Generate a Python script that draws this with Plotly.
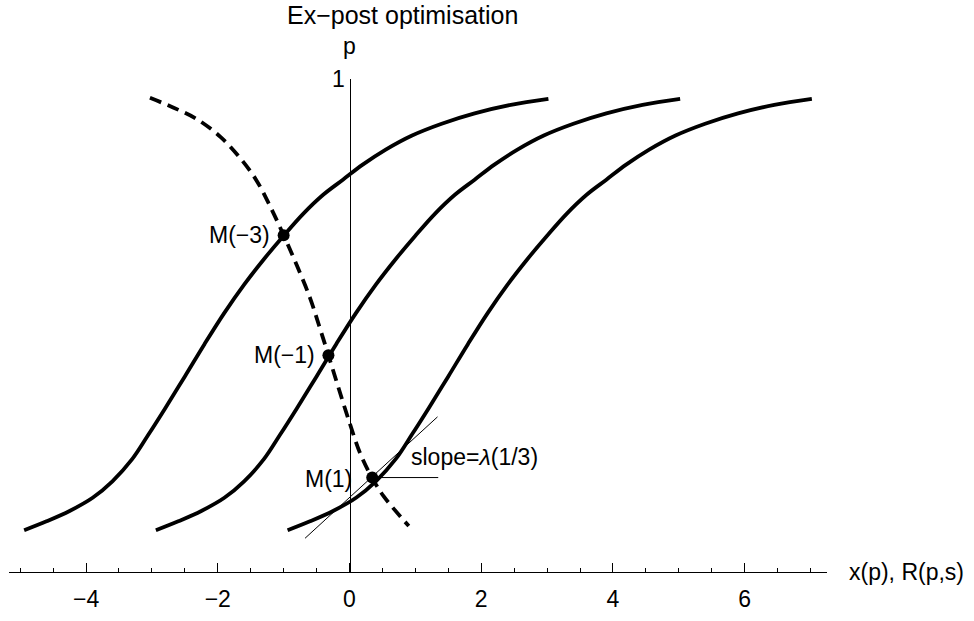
import plotly.graph_objects as go

# ---- data ----
# three solid curves R(p,s) for s = -3, -1, 1 (same p samples)
p_curve = [0.041, 0.060, 0.082, 0.110, 0.145, 0.192, 0.245, 0.300, 0.368, 0.437, 0.503, 0.563,
           0.617, 0.667, 0.714, 0.754, 0.786, 0.818, 0.850, 0.880, 0.905, 0.927, 0.945, 0.958]
x_s_m3 = [-4.94, -4.60, -4.25, -3.90, -3.60, -3.30, -3.05, -2.80, -2.50, -2.20, -1.90, -1.60,
          -1.30, -1.00, -0.70, -0.40, -0.10, 0.20, 0.55, 0.95, 1.40, 1.90, 2.45, 3.02]
x_s_m1 = [-2.94, -2.60, -2.25, -1.90, -1.60, -1.30, -1.05, -0.80, -0.50, -0.20, 0.10, 0.40,
          0.70, 1.00, 1.30, 1.60, 1.90, 2.20, 2.55, 2.95, 3.40, 3.90, 4.45, 5.02]
x_s_p1 = [-0.94, -0.60, -0.25, 0.10, 0.40, 0.70, 0.95, 1.20, 1.50, 1.80, 2.10, 2.40,
          2.70, 3.00, 3.30, 3.60, 3.90, 4.20, 4.55, 4.95, 5.40, 5.90, 6.45, 7.02]

# dashed locus of the optimal points M(s)
p_dash = [0.960, 0.939, 0.915, 0.877, 0.832, 0.784, 0.728, 0.668, 0.604, 0.535,
          0.475, 0.413, 0.345, 0.270, 0.205, 0.153, 0.113, 0.050]
x_dash = [-3.03, -2.67, -2.32, -1.96, -1.66, -1.41, -1.20, -1.00, -0.80, -0.60,
          -0.46, -0.32, -0.17, 0.00, 0.16, 0.34, 0.52, 0.90]

m_labels = ["M(\u22123)", "M(\u22121)", "M(1)"]
m_x = [-1.00, -0.32, 0.345]
m_p = [0.668, 0.413, 0.153]

tan_x = [-0.675, 1.336]
tan_p = [0.024, 0.282]
hor_x = [0.345, 1.347]
hor_p = [0.153, 0.153]

x_ticks = [-4, -2, 0, 2, 4, 6]
title_text = "Ex\u2212post optimisation"
x_label = "x(p), R(p,s)"
y_label = "p"
slope_text = "slope=<i>\u03bb</i>(1/3)"

# ---- figure ----
FONT = "Liberation Sans, Arial, Helvetica, sans-serif"
FS = 23
XMIN, XMAX = -5.17, 7.25
YMIN, YMAX = -0.0477, 1.0

fig = go.Figure()
for xs in (x_s_m3, x_s_m1, x_s_p1):
    fig.add_trace(go.Scatter(x=xs, y=p_curve, mode="lines",
                             line=dict(color="black", width=3.8, shape="spline", smoothing=1.0),
                             hoverinfo="skip", showlegend=False))
fig.add_trace(go.Scatter(x=x_dash, y=p_dash, mode="lines",
                         line=dict(color="black", width=3.8, dash="12px,7px", shape="spline", smoothing=1.0),
                         hoverinfo="skip", showlegend=False))
fig.add_trace(go.Scatter(x=tan_x, y=tan_p, mode="lines", line=dict(color="black", width=1),
                         hoverinfo="skip", showlegend=False))
fig.add_trace(go.Scatter(x=hor_x, y=hor_p, mode="lines", line=dict(color="black", width=1),
                         hoverinfo="skip", showlegend=False))
fig.add_trace(go.Scatter(x=m_x, y=m_p, mode="markers", marker=dict(color="black", size=12),
                         hoverinfo="skip", showlegend=False))

txt = dict(size=FS, family=FONT, color="black")
ann = []
offsets = [(-0.18, 0.0), (-0.17, 0.0), (-0.27, -0.003)]
for lab, mx, mp, (dx, dy) in zip(m_labels, m_x, m_p, offsets):
    ann.append(dict(x=mx + dx, y=mp + dy, xref="x", yref="y", text=lab, showarrow=False,
                    xanchor="right", yanchor="middle", font=txt))
ann.append(dict(x=0.906, y=0.196, xref="x", yref="y", text=slope_text, showarrow=False,
                xanchor="left", yanchor="middle", font=txt))
ann.append(dict(x=1.0, y=0.0, xref="paper", yref="paper", text=x_label, showarrow=False,
                xanchor="left", yanchor="middle", xshift=20, font=txt))
ann.append(dict(x=0, y=1.0, xref="x", yref="paper", text=y_label, showarrow=False,
                xanchor="center", yanchor="bottom", yshift=18, font=txt))
ann.append(dict(x=-0.977, y=1.0, xref="x", yref="paper", text=title_text, showarrow=False,
                xanchor="left", yanchor="bottom", yshift=48, font=dict(size=25, family=FONT, color="black")))

fig.update_layout(
    width=974, height=621,
    margin=dict(l=9, r=147, t=79, b=37),
    paper_bgcolor="white", plot_bgcolor="white",
    font=dict(family=FONT, color="black"),
    annotations=ann,
    xaxis=dict(range=[XMIN, XMAX], showgrid=False, zeroline=False, showline=True,
               linecolor="black", linewidth=1, ticks="inside", ticklen=9, tickcolor="black",
               tickvals=x_ticks, tickfont=txt,
               minor=dict(dtick=0.5, tick0=0, ticks="inside", ticklen=4.5, tickcolor="black", showgrid=False),
               ticklabelstandoff=6),
    yaxis=dict(range=[YMIN, YMAX], showgrid=False, zeroline=False, showline=True,
               linecolor="black", linewidth=1, anchor="free",
               position=(0 - XMIN) / (XMAX - XMIN),
               ticks="inside", ticklen=9, tickcolor="black",
               tickvals=[1], ticktext=["1"], tickfont=txt),
)

fig.write_html("out.html")
